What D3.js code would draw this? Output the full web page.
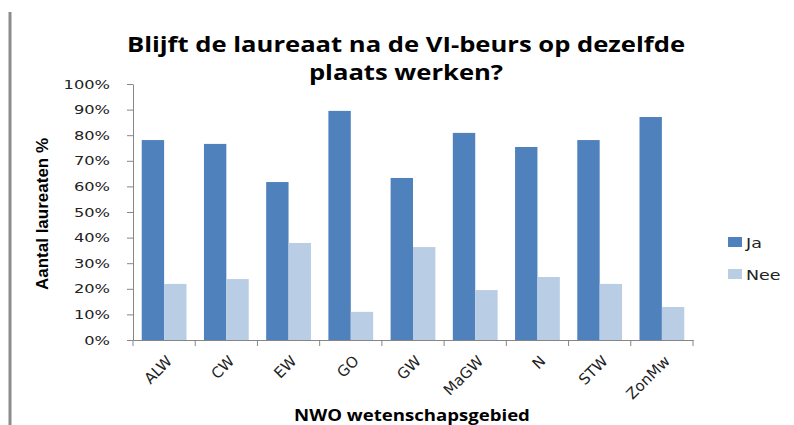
<!DOCTYPE html>
<html>
<head>
<meta charset="utf-8">
<script src="https://cdn.jsdelivr.net/npm/d3@7/dist/d3.min.js"></script>
<style>
  html, body { margin: 0; padding: 0; background: #fff; }
  svg { display: block; }
</style>
</head>
<body>
<svg id="chart" width="794" height="425"></svg>
<script>
// Categories (NWO domains) and share of laureates per answer
const categories = ["ALW", "CW", "EW", "GO", "GW", "MaGW", "N", "STW", "ZonMw"];
const ja  = [78.1, 76.6, 61.7, 89.5, 63.3, 80.9, 75.4, 78.1, 87.1];
const nee = [21.9, 23.8, 37.9, 11.0, 36.3, 19.5, 24.6, 21.9, 12.9];
const seriesNames = ["Ja", "Nee"];
const seriesColors = ["#4F81BD", "#B9CDE5"];
const yTicks = [0, 10, 20, 30, 40, 50, 60, 70, 80, 90, 100];

const svg = d3.select("#chart");
const axisColor = "#868686";
const stretch = 1.25; // wide lettering

// left frame edge
svg.append("line")
  .attr("x1", 10).attr("x2", 10).attr("y1", 12).attr("y2", 425)
  .attr("stroke", "#8c8c8c").attr("stroke-width", 3);

const plot = { left: 133, right: 693, top: 84, bottom: 340 };

const x = d3.scaleBand().domain(categories).range([plot.left, plot.right]).paddingInner(0).paddingOuter(0);
const inner = d3.scaleBand().domain(seriesNames).range([0, x.bandwidth()]).paddingInner(0).paddingOuter(0.39);
const y = d3.scaleLinear().domain([0, 100]).range([plot.bottom, plot.top]);

// title
[["Blijft de laureaat na de VI-beurs op dezelfde", 52], ["plaats werken?", 80]].forEach(([t, ty]) => {
  svg.append("text")
    .attr("transform", `translate(406,${ty}) scale(${stretch},1)`)
    .attr("text-anchor", "middle")
    .attr("font-family", "'Open Sans', sans-serif")
    .attr("font-weight", "bold")
    .attr("font-size", 20.5)
    .attr("fill", "#000")
    .text(t);
});

// bars
const rows = categories.map((c, i) => ({ cat: c, values: [ja[i], nee[i]] }));
const groups = svg.append("g").selectAll("g").data(rows).join("g")
  .attr("transform", d => `translate(${x(d.cat)},0)`);
groups.selectAll("rect")
  .data(d => d.values.map((v, j) => ({ name: seriesNames[j], v, j })))
  .join("rect")
  .attr("x", d => inner(d.name))
  .attr("width", inner.bandwidth())
  .attr("y", d => y(d.v))
  .attr("height", d => y(0) - y(d.v))
  .attr("fill", d => seriesColors[d.j]);

// y axis
const yAxis = d3.axisLeft(y).tickValues(yTicks).tickSize(6).tickSizeOuter(0)
  .tickFormat(d => d + "%");
const gy = svg.append("g").attr("transform", `translate(${plot.left},0)`).call(yAxis);
gy.select(".domain").attr("stroke", axisColor);
gy.selectAll(".tick line").attr("stroke", axisColor);
gy.selectAll(".tick text")
  .attr("x", 0)
  .attr("transform", `translate(-23,0) scale(${stretch},1)`)
  .attr("font-family", "'DejaVu Sans', sans-serif")
  .attr("font-size", 13)
  .attr("fill", "#222");

// x axis
const xAxis = d3.axisBottom(x).tickSize(0).tickSizeOuter(0);
const gx = svg.append("g").attr("transform", `translate(0,${plot.bottom})`).call(xAxis);
gx.select(".domain").attr("stroke", axisColor);
// category boundary tick marks
gx.selectAll(".sep").data(categories.concat(["end"])).join("line")
  .attr("class", "sep")
  .attr("x1", (d, i) => plot.left + i * x.step())
  .attr("x2", (d, i) => plot.left + i * x.step())
  .attr("y1", 0).attr("y2", 6)
  .attr("stroke", axisColor);
gx.selectAll(".tick text")
  .attr("font-family", "'DejaVu Sans', sans-serif")
  .attr("font-size", 15)
  .attr("fill", "#222")
  .attr("text-anchor", "end")
  .attr("dy", 0)
  .attr("y", 0)
  .attr("transform", "translate(9,22) rotate(-45)");

// axis titles
svg.append("text")
  .attr("transform", "translate(48,214) rotate(-90)")
  .attr("text-anchor", "middle")
  .attr("font-family", "'Liberation Sans Narrow', 'Liberation Sans', sans-serif")
  .attr("font-weight", "bold")
  .attr("font-size", 17)
  .attr("fill", "#000")
  .text("Aantal laureaten %");

svg.append("text")
  .attr("transform", `translate(412,421) scale(1.2,1)`)
  .attr("text-anchor", "middle")
  .attr("font-family", "'Open Sans', sans-serif")
  .attr("font-weight", "bold")
  .attr("font-size", 15.5)
  .attr("fill", "#000")
  .text("NWO wetenschapsgebied");

// legend
const legend = svg.append("g").selectAll("g").data(seriesNames).join("g")
  .attr("transform", (d, i) => `translate(728,${237 + i * 32})`);
legend.append("rect").attr("width", 14).attr("height", 10)
  .attr("fill", (d, i) => seriesColors[i]);
legend.append("text")
  .attr("transform", `translate(18,11) scale(${stretch},1)`)
  .attr("font-family", "'DejaVu Sans', sans-serif")
  .attr("font-size", 14)
  .attr("fill", "#222")
  .text(d => d);
</script>
</body>
</html>
